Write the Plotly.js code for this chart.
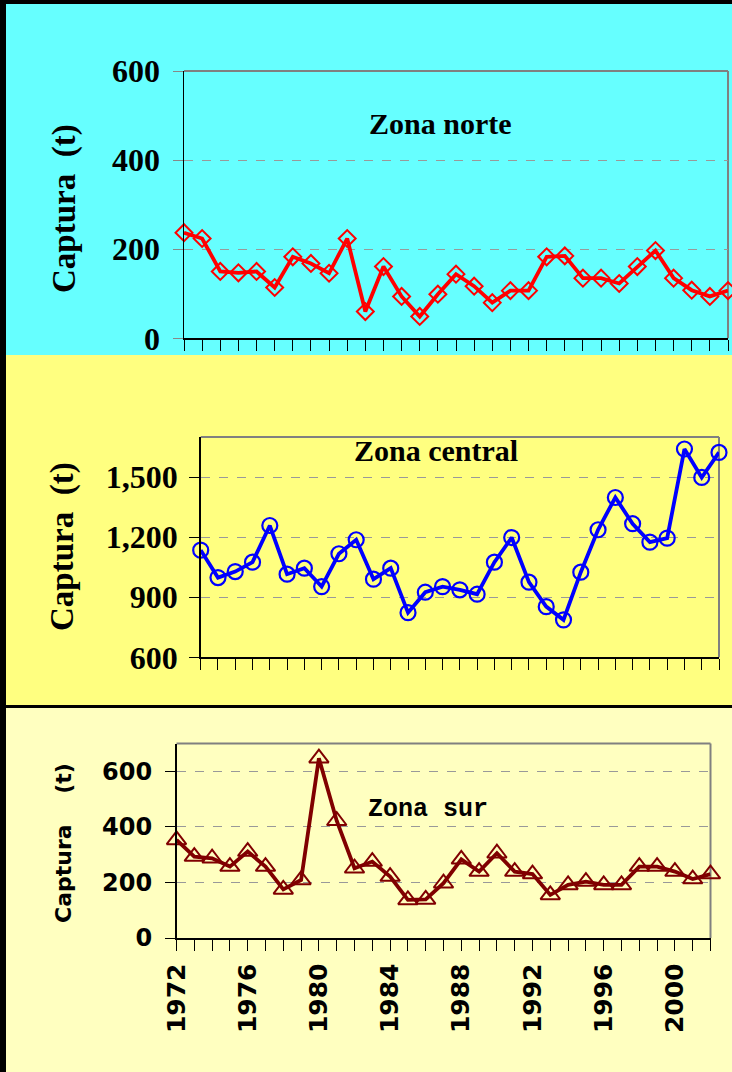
<!DOCTYPE html>
<html>
<head>
<meta charset="utf-8">
<script src="https://cdn.plot.ly/plotly-3.0.1.min.js"></script>
<style>html,body{margin:0;padding:0;background:#000;} #chart{width:732px;height:1072px;}</style>
</head>
<body>
<div id="chart"></div>
<script>
// ---- data ----
const years = [1972,1973,1974,1975,1976,1977,1978,1979,1980,1981,1982,1983,1984,1985,1986,1987,1988,1989,1990,1991,1992,1993,1994,1995,1996,1997,1998,1999,2000,2001,2002];
const norte = [237,224,150,147,150,114,183,168,146,224,60,161,94,49,99,144,117,80,107,107,183,185,135,135,123,161,197,135,108,94,107];
const central = [1135,998,1028,1075,1258,1015,1045,953,1117,1187,990,1045,823,925,953,937,915,1075,1198,975,853,787,1025,1237,1398,1267,1175,1195,1640,1498,1623];
const sur = [353,293,287,257,311,257,175,209,647,422,251,275,221,137,139,197,283,239,305,239,230,155,191,203,191,191,257,257,239,212,230];
const yearLabels = years.map(y => ((y - 1972) % 4 === 0) ? String(y) : '');
const panelTitles = ['Zona norte', 'Zona central', 'Zona sur'];
const yTitle = 'Captura\u00a0\u00a0(t)';
const yTitleSur = 'Captura\u00a0\u00a0\u00a0\u00a0(t)';

// ---- helpers for pixel -> paper ----
const W = 732, H = 1072;
const px = p => p / W;
const py = p => 1 - p / H;

const serif = 'Liberation Serif, Times New Roman, serif';
const sans = 'DejaVu Sans, Verdana, sans-serif';
const mono2 = 'Liberation Mono, Courier New, monospace';

const traces = [
  {x: years, y: norte, xaxis: 'x', yaxis: 'y', mode: 'lines+markers', cliponaxis: false,
   line: {color: '#FF0000', width: 3.8},
   marker: {symbol: 'diamond-open', size: 13, color: '#FF0000', line: {width: 2}}},
  {x: years, y: central, xaxis: 'x2', yaxis: 'y2', mode: 'lines+markers', cliponaxis: false,
   line: {color: '#0000FF', width: 3.8},
   marker: {symbol: 'circle-open', size: 15, color: '#0000FF', line: {width: 2.2}}},
  {x: years, y: sur, xaxis: 'x3', yaxis: 'y3', mode: 'lines+markers', cliponaxis: false,
   line: {color: '#800000', width: 3.8},
   marker: {symbol: 'triangle-up-open', size: 17, color: '#800000', line: {width: 2}}}
];

function xax(domain, anchor, showLabels) {
  return {
    domain: domain, anchor: anchor, range: [1972, 2002],
    tickmode: 'array', tickvals: years, ticktext: yearLabels,
    showticklabels: showLabels, tickangle: -90,
    tickfont: {family: sans, size: 25, color: '#000', weight: 'bold'},
    ticklabelstandoff: 3,
    ticks: 'outside', ticklen: 11, tickcolor: '#000', tickwidth: 1,
    showline: true, linecolor: '#000', linewidth: 1.5,
    showgrid: false, zeroline: false, fixedrange: true
  };
}
function yax(domain, anchor, range, tickvals, font, tickcolor, standoff) {
  return {
    domain: domain, anchor: anchor, range: range,
    tickmode: 'array', tickvals: tickvals, tickformat: ',',
    tickfont: font,
    ticks: 'outside', ticklen: 10, tickcolor: tickcolor, tickwidth: 1,
    ticklabelstandoff: standoff,
    showline: true, linecolor: '#000', linewidth: 1.5,
    showgrid: true, gridcolor: '#999999', griddash: 'dash', gridwidth: 1,
    zeroline: false, fixedrange: true
  };
}

const serifTick = {family: serif, size: 32, color: '#000', weight: 'bold'};
const sansTick = {family: sans, size: 24, color: '#000', weight: 'bold'};

const layout = {
  width: W, height: H,
  margin: {l: 0, r: 0, t: 0, b: 0},
  paper_bgcolor: '#000000',
  plot_bgcolor: 'rgba(0,0,0,0)',
  showlegend: false,
  xaxis: xax([px(184), px(728)], 'y', false),
  yaxis: yax([py(338.3), py(71)], 'x', [0, 600], [0, 200, 400, 600], serifTick, '#888888', 6),
  xaxis2: xax([px(200.7), px(719)], 'y2', false),
  yaxis2: yax([py(657.3), py(437)], 'x2', [600, 1700], [600, 900, 1200, 1500], serifTick, '#000', 5),
  xaxis3: xax([px(176.5), px(710.5)], 'y3', true),
  yaxis3: yax([py(938), py(743.5)], 'x3', [0, 700], [0, 200, 400, 600], sansTick, '#000', 8),
  shapes: [
    {type: 'rect', xref: 'paper', yref: 'paper', x0: px(6), x1: 1, y0: py(355), y1: py(4), fillcolor: '#66FFFF', line: {width: 0}, layer: 'below'},
    {type: 'rect', xref: 'paper', yref: 'paper', x0: px(6), x1: 1, y0: py(705), y1: py(355), fillcolor: '#FFFF80', line: {width: 0}, layer: 'below'},
    {type: 'rect', xref: 'paper', yref: 'paper', x0: px(6), x1: 1, y0: 0, y1: py(708), fillcolor: '#FFFFC0', line: {width: 0}, layer: 'below'},
    // gray top/right frame lines
    {type: 'line', xref: 'x domain', yref: 'y domain', x0: 0, x1: 1, y0: 1, y1: 1, line: {color: '#808080', width: 2}, layer: 'below'},
    {type: 'line', xref: 'x domain', yref: 'y domain', x0: 1, x1: 1, y0: 0, y1: 1, line: {color: '#808080', width: 2}, layer: 'below'},
    {type: 'line', xref: 'x2 domain', yref: 'y2 domain', x0: 0, x1: 1, y0: 1, y1: 1, line: {color: '#808080', width: 2}, layer: 'below'},
    {type: 'line', xref: 'x2 domain', yref: 'y2 domain', x0: 1, x1: 1, y0: 0, y1: 1, line: {color: '#808080', width: 2}, layer: 'below'},
    {type: 'line', xref: 'x3 domain', yref: 'y3 domain', x0: 0, x1: 1, y0: 1, y1: 1, line: {color: '#808080', width: 2}, layer: 'below'},
    {type: 'line', xref: 'x3 domain', yref: 'y3 domain', x0: 1, x1: 1, y0: 0, y1: 1, line: {color: '#808080', width: 2}, layer: 'below'}
  ],
  annotations: [
    {xref: 'paper', yref: 'paper', x: px(441), y: py(123), text: panelTitles[0], showarrow: false,
     xanchor: 'center', yanchor: 'middle', font: {family: serif, size: 30, color: '#000', weight: 'bold'}},
    {xref: 'paper', yref: 'paper', x: px(435.5), y: py(451), text: panelTitles[1], showarrow: false,
     xanchor: 'center', yanchor: 'middle', font: {family: serif, size: 30, color: '#000', weight: 'bold'}},
    {xref: 'paper', yref: 'paper', x: px(428), y: py(809), text: panelTitles[2], showarrow: false,
     xanchor: 'center', yanchor: 'middle', font: {family: mono2, size: 25, color: '#000', weight: 'bold'}},
    {xref: 'paper', yref: 'paper', x: px(64), y: py(209), text: yTitle, showarrow: false, textangle: -90,
     xanchor: 'center', yanchor: 'middle', font: {family: serif, size: 33, color: '#000', weight: 'bold'}},
    {xref: 'paper', yref: 'paper', x: px(62), y: py(547), text: yTitle, showarrow: false, textangle: -90,
     xanchor: 'center', yanchor: 'middle', font: {family: serif, size: 33, color: '#000', weight: 'bold'}},
    {xref: 'paper', yref: 'paper', x: px(63), y: py(843), text: yTitleSur, showarrow: false, textangle: -90,
     xanchor: 'center', yanchor: 'middle', font: {family: sans, size: 22, color: '#000', weight: 'bold'}}
  ]
};

Plotly.newPlot('chart', traces, layout, {displayModeBar: false, staticPlot: true});
</script>
</body>
</html>
